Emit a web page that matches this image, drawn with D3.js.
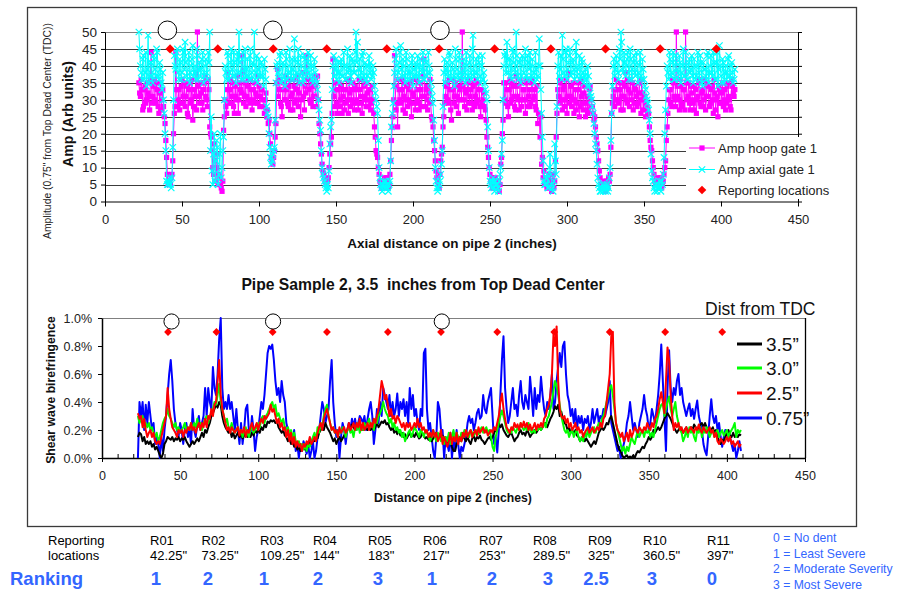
<!DOCTYPE html>
<html>
<head>
<meta charset="utf-8">
<script src="https://cdn.jsdelivr.net/npm/d3@7"></script>
<style>
  body { margin: 0; background: #fff; }
  svg { display: block; }
  text { font-family: "Liberation Sans", Arial, Helvetica, sans-serif; }
</style>
</head>
<body>
<svg id="chart" width="904" height="591"></svg>
<script>
// ---------- Ultrasonic amplitude scan, pipe 2 ----------
// readings on whole inches from 22", plus the interleaved half-inch readings from 22.5"
const ampStart = 22;
const ampHoop = [
  35,31,33,28,34,30,32,27,44,31, 36,29,33,26,35,30,28,23,13,5,
  6,7,12,26,44,28,33,29,36,31, 28,34,25,35,30,24,33,38,50,31,
  35,29,33,37,30,36,22,19,10,17, 6,14,8,5,3,21,30,26,38,33,
  29,35,26,31,37,30,33,43,29,35, 31,36,29,33,30,35,32,29,34,31,
  33,28,30,25,23,20,13,11,15,23, 39,33,29,25,35,30,33,28,36,31,
  27,34,30,37,32,25,35,31,34,43, 36,30,34,28,37,31,37,23,17,11,
  8,6,5,7,14,19,42,28,33,26, 35,30,26,33,29,36,26,32,30,35,
  27,33,29,36,31,26,34,30,35,28, 33,29,30,22,15,13,8,5,4,6,
  5,7,4,8,18,25,43,27,22,33, 29,36,31,26,34,30,35,25,32,29,
  36,30,27,33,31,42,28,34,30,36, 25,22,15,9,6,4,12,16,25,31,
  35,29,33,24,36,31,28,34,30,36, 50,30,33,27,35,31,29,34,28,36,
  30,33,25,29,32,27,19,13,8,5, 7,4,6,5,3,11,20,35,29,33,
  25,36,30,34,28,37,31,27,35,30, 33,26,36,31,28,35,30,33,27,23,
  26,25,13,9,5,4,7,5,3,8, 6,19,33,29,36,27,34,30,26,38,
  31,28,35,30,27,33,25,36,29,32, 25,31,27,34,28,26,25,19,15,9,
  5,4,6,3,5,7,8,26,31,28, 36,30,33,27,35,31,38,29,33,36,
  30,27,34,31,29,35,26,32,30,25, 28,26,18,15,10,6,5,7,4,6,
  5,8,12,22,30,33,28,35,30,50, 31,27,34,29,33,50,30,35,27,32,
  29,34,26,31,36,28,33,30,27,35, 31,29,34,26,32,30,25,33,29,35,
  30,27,34,31,28,36,32,33
];
const ampHoopHalf = [
  32,36,27,33,29,35,31,36,29,34, 30,35,28,32,27,33,25,18,8,5,
  5,8,20,28,33,30,27,34,29,35, 31,26,33,29,36,28,31,27,34,29,
  32,27,35,31,28,33,20,15,8,12, 10,5,7,4,6,25,28,33,29,36,
  31,28,34,30,26,35,32,38,31,28, 34,30,36,27,33,29,31,37,28,33,
  30,26,32,27,24,17,12,13,19,35, 31,36,28,33,30,37,29,34,27,32,
  36,29,33,28,35,30,38,27,32,36, 33,29,35,31,34,28,30,20,14,9,
  7,5,6,10,17,26,31,35,29,33, 28,34,31,27,33,30,36,28,33,29,
  34,30,27,33,29,36,31,28,32,30, 27,34,26,19,14,10,6,4,5,7,
  4,6,5,12,22,30,34,29,36,30, 33,27,35,30,28,33,29,36,31,27,
  33,29,35,28,37,31,33,27,32,29, 24,18,12,7,5,8,14,22,29,34,
  30,36,27,33,29,35,31,26,33,30, 34,28,32,36,29,33,27,35,31,29,
  35,28,33,30,28,24,16,10,6,4, 5,7,4,6,5,13,24,30,35,28,
  33,29,35,31,27,34,30,36,28,33, 30,35,28,33,29,36,31,28,34,26,
  19,11,7,5,6,4,8,5,6,4, 12,26,31,35,30,33,28,36,31,29,
  34,30,26,33,29,35,28,31,27,34, 29,26,33,30,28,24,22,17,12,7,
  4,5,4,6,4,6,16,29,33,30, 33,29,35,31,27,34,30,36,28,32,
  35,29,33,28,32,30,36,27,31,29, 27,22,16,12,8,5,6,5,7,4,
  6,10,18,26,33,29,36,31,28,34, 30,36,28,33,27,35,31,29,34,30,
  27,33,30,35,29,32,28,36,31,34, 28,33,30,36,27,31,34,29,32,28,
  33,29,35,30,27,34,31
];
const ampAxial = [
  50,40,36,43,38,34,49,37,41,35, 42,37,44,36,39,33,30,20,6,5,
  7,4,16,43,39,45,36,41,38,44, 47,37,42,35,40,46,38,36,43,39,
  37,42,35,40,38,44,50,25,5,20, 12,16,8,20,10,19,40,36,43,38,
  45,37,41,35,44,50,38,42,36,45, 39,37,43,36,41,50,38,35,42,37,
  40,34,39,28,25,16,11,14,16,35, 41,37,44,36,40,34,42,38,45,36,
  39,48,37,41,35,43,38,36,42,39, 44,37,40,35,42,36,33,27,21,10,
  7,5,3,4,17,24,40,37,42,38, 35,41,37,44,36,40,38,43,35,41,
  38,50,47,39,36,43,37,41,35,40, 38,36,40,34,30,26,10,5,3,6,
  4,5,3,6,22,29,38,45,36,41, 46,37,40,35,42,38,36,41,34,39,
  37,43,35,40,38,36,42,37,44,38, 33,29,18,6,3,5,8,15,38,35,
  41,37,43,36,39,34,42,37,44,38, 36,42,35,40,37,43,36,49,38,42,
  36,41,35,43,38,33,30,15,6,4, 7,3,5,4,6,10,18,40,44,47,
  38,42,36,44,39,50,37,41,35,43, 38,45,36,41,44,37,40,35,39,37,
  48,33,19,6,5,8,4,14,5,3, 17,8,40,37,43,49,38,44,36,41,
  45,38,42,36,47,39,43,37,41,35, 39,34,37,32,30,26,20,15,7,4,
  3,5,4,3,5,4,10,26,40,37, 43,38,45,50,39,44,37,42,38,45,
  36,41,38,44,35,40,37,42,36,33, 30,27,20,9,6,3,5,4,6,3,
  5,13,27,40,36,42,38,44,36,41, 38,43,35,40,37,44,36,41,38,43,
  35,40,37,44,36,41,34,39,37,43, 35,40,38,44,36,41,34,46,37,42,
  35,40,38,43,36,41,35,39
];
const ampAxialHalf = [
  45,38,42,36,44,39,35,41,37,43, 39,45,37,41,35,38,26,15,5,6,
  5,7,30,40,44,38,42,36,45,39, 41,36,44,38,42,37,40,45,36,41,
  39,44,37,42,36,41,15,9,14,6, 18,5,14,7,15,30,38,44,36,41,
  39,44,37,42,38,41,36,44,39,37, 42,36,45,38,40,36,43,39,37,41,
  37,42,36,26,20,13,12,15,24,40, 38,43,35,41,37,44,36,40,38,42,
  36,42,38,45,37,40,35,43,37,41, 38,43,36,40,38,35,30,24,15,8,
  6,4,5,9,22,33,43,39,36,41, 38,42,37,40,36,45,39,37,42,38,
  44,41,37,42,38,44,36,40,37,43, 41,37,38,32,28,18,7,4,5,4,
  6,4,5,12,26,34,42,40,38,44, 39,42,37,44,36,40,38,43,37,41,
  40,37,42,39,44,36,41,38,40,35, 31,24,10,4,4,6,11,28,42,39,
  38,44,36,41,37,45,39,36,42,37, 40,38,44,36,41,38,45,37,40,38,
  43,37,40,36,35,32,22,10,5,6, 4,6,5,3,8,14,30,43,38,42,
  40,37,45,41,38,43,36,42,37,40, 42,37,43,39,36,42,38,44,36,40,
  40,26,12,5,7,4,10,8,4,6, 12,28,44,39,36,42,37,45,39,43,
  37,41,39,44,37,40,36,42,38,37, 36,40,34,31,28,23,17,11,5,3,
  4,3,5,4,3,7,18,34,42,39, 41,36,42,47,38,41,40,44,36,42,
  39,43,37,41,38,44,36,39,34,31, 29,24,14,7,4,5,3,5,4,6,
  8,20,34,38,44,37,41,36,43,39, 36,41,38,45,37,40,36,42,39,37,
  42,36,40,38,43,35,41,39,36,44, 38,43,37,41,36,44,39,40,35,41,
  38,36,42,37,40,38,36
];

// ---------- Shear wave birefringence (%), one reading per inch from 23" ----------
const bireStart = 23;
const bire075 = [
  0,.4,.3,.4,.2,.38,.25,.4,.3,.2, .25,.1,.15,.1,0,.15,.05,.2,.3,.45,
  .6,.7,.55,.35,.25,.2,.15,.25,.2,.1, .2,.25,.15,.2,.1,.35,.2,.15,.25,.3,
  .2,.25,.3,.5,.3,.5,.4,.35,.65,.5, .45,.6,.85,1,.5,.35,.4,.35,.45,.35,
  .4,.3,.2,.35,.2,.1,.25,.1,.2,.35, .38,.2,.15,.3,.2,.05,.15,.2,.3,.4,
  .35,.45,.6,.75,.8,.78,.81,.7,.55,.45, .5,.4,.55,.45,.4,.25,.2,.15,.18,.1,
  .2,.05,.1,0,.1,.05,.12,.08,.03,.1, 0,.05,.12,0,.05,.15,.2,.3,.4,.35,
  .25,.3,.35,.55,.7,.4,.25,.15,.2,0, .15,.25,.2,.1,.2,.25,.2,.28,.22,.28,
  .2,.25,.3,.28,.25,.3,.2,.28,.35,.4, .3,.1,.2,.35,.25,.4,.3,.5,.45,.4,
  .35,.45,.3,.4,.3,.35,.46,.3,.4,.35, .42,.3,.4,.25,.5,.35,.45,.3,.35,.25,
  .2,.35,.3,.75,.78,.35,.2,.25,.15,.05, 0,.15,.4,.35,.2,.2,0,.15,.1,.05,
  .18,0,.12,.05,.2,.1,0,.08,.05,.1, .15,.25,.3,.25,.28,.2,.25,.32,.35,.28,
  .3,.45,.35,.32,.4,.45,.5,.3,.1,.15, .04,.2,.45,.7,.87,.5,.35,.25,.3,.4,
  .5,.35,.38,.3,.45,.55,.4,.35,.45,.4, .35,.58,.45,.3,.5,.35,.45,.4,.58,.45,
  .35,.3,.4,.35,.45,.6,.35,.4,.55,.65, .75,.65,.8,.83,.6,.45,.4,.3,.35,.25,
  .35,.2,.3,.25,.3,.2,.28,.25,.3,.2, .25,.35,.25,.3,.35,.25,.3,.28,.35,.3,
  .35,.4,.55,.25,.2,.15,.1,.05,.08,0, .05,.1,.15,.25,.3,.4,.3,.2,.25,.2,
  .15,.25,.3,.35,.45,.35,.3,.2,.25,.35, .3,.25,.35,.45,.6,.81,.55,.3,.05,.5,
  .77,.5,.4,.5,.45,.55,.6,.45,.5,.4, .35,.3,.35,.39,.3,.35,.28,.35,.41,.3,
  .25,.2,.1,.05,.02,.15,.3,.42,.3,.25, .3,.2,.25,.15,.08,.15,.2,.15,.12,.15,
  .1,.05,.1,0,.05,.12,.05
];
const bire25 = [
  .32,.28,.3,.22,.28,.2,.15,.18,.2,.15, .18,.12,.1,.12,.1,.15,.2,.25,.3,.5,
  .35,.28,.22,.2,.18,.15,.2,.18,.2,.15, .2,.18,.22,.2,.25,.2,.22,.18,.22,.25,
  .2,.25,.22,.28,.22,.3,.28,.35,.3,.38, .4,.55,.7,.45,.35,.3,.25,.2,.22,.18,
  .22,.2,.18,.2,.22,.16,.2,.18,.22,.15, .2,.18,.22,.25,.2,.22,.25,.2,.25,.28,
  .25,.3,.28,.3,.32,.38,.33,.35,.3,.25, .28,.22,.25,.2,.22,.15,.2,.12,.18,.1,
  .15,.08,.12,.08,.1,.05,.1,.08,.12,.1, .15,.1,.12,.15,.12,.18,.22,.25,.2,.28,
  .32,.35,.3,.25,.2,.22,.18,.2,.15,.22, .18,.2,.22,.18,.2,.25,.2,.22,.25,.2,
  .25,.22,.28,.2,.25,.2,.22,.25,.2,.25, .22,.28,.25,.3,.35,.45,.55,.5,.42,.45,
  .38,.3,.35,.28,.3,.25,.3,.28,.25,.22, .25,.2,.25,.22,.25,.2,.22,.25,.22,.28,
  .22,.25,.2,.22,.18,.2,.15,.18,.15,.2, .15,.18,.12,.15,.2,.1,.15,.12,.08,.12,
  .18,.1,.15,.12,.18,.1,.15,.12,.18,.15, .2,.15,.18,.2,.15,.18,.2,.16,.22,.18,
  .2,.22,.18,.2,.16,.18,.2,.18,.22,.2, .25,.3,.4,.46,.35,.28,.22,.2,.18,.22,
  .2,.25,.22,.24,.2,.25,.22,.26,.22,.25, .2,.24,.2,.22,.25,.2,.24,.22,.25,.22,
  .28,.3,.35,.38,.45,.6,.88,.8,.94,.55, .35,.3,.28,.3,.25,.28,.22,.25,.2,.22,
  .25,.2,.22,.18,.2,.15,.18,.2,.22,.18, .2,.22,.18,.2,.22,.2,.25,.22,.28,.3,
  .4,.5,.6,.87,.9,.4,.25,.2,.18,.15, .18,.12,.15,.18,.12,.2,.15,.18,.22,.2,
  .18,.22,.2,.18,.22,.2,.25,.22,.2,.25, .22,.28,.3,.35,.42,.47,.4,.32,.55,.79,
  .7,.45,.3,.2,.25,.22,.25,.2,.22,.18, .2,.22,.18,.2,.22,.2,.18,.22,.2,.24,
  .2,.18,.22,.2,.18,.2,.22,.18,.2,.15, .18,.12,.1,.14,.12,.1,.12,.15,.12,.15,
  .1,.12,.08,.1,.12,.08,.1
];
const bire30 = [
  .3,.25,.28,.3,.22,.25,.22,.25,.2,.22, .18,.15,.18,.12,.15,.2,.25,.28,.3,.35,
  .3,.28,.25,.22,.25,.2,.22,.18,.2,.22, .25,.2,.22,.2,.25,.2,.25,.22,.28,.22,
  .25,.2,.25,.28,.3,.25,.3,.32,.35,.4, .38,.45,.53,.4,.35,.3,.25,.28,.22,.2,
  .25,.2,.18,.2,.22,.18,.2,.15,.2,.22, .18,.15,.2,.22,.18,.2,.22,.25,.22,.28,
  .3,.25,.3,.32,.35,.38,.4,.35,.38,.3, .32,.28,.25,.28,.22,.2,.22,.18,.2,.15,
  .18,.12,.1,.12,.08,.1,.06,.1,.05,.1, .08,.12,.15,.18,.12,.22,.18,.25,.22,.3,
  .35,.38,.3,.25,.2,.22,.18,.2,.15,.2, .18,.22,.2,.15,.2,.22,.18,.2,.15,.22,
  .2,.25,.18,.22,.2,.25,.22,.25,.28,.22, .25,.2,.28,.25,.3,.32,.35,.4,.35,.32,
  .3,.25,.28,.22,.25,.2,.22,.18,.2,.15, .18,.12,.15,.18,.2,.15,.18,.22,.2,.18,
  .15,.2,.18,.15,.2,.18,.15,.12,.15,.2, .15,.12,.18,.15,.12,.15,.1,.15,.12,.18,
  .1,.15,.2,.12,.18,.15,.12,.18,.15,.2, .16,.18,.15,.2,.18,.16,.18,.2,.17,.2,
  .22,.18,.2,.22,.18,.2,.15,.08,.05,.15, .2,.25,.3,.34,.3,.25,.2,.18,.2,.18,
  .22,.2,.18,.22,.2,.25,.22,.2,.22,.2, .25,.2,.18,.2,.18,.22,.2,.22,.2,.22,
  .25,.22,.28,.3,.35,.4,.48,.55,.52,.45, .38,.3,.25,.2,.18,.2,.15,.18,.2,.15,
  .18,.2,.15,.12,.15,.12,.18,.15,.2,.15, .18,.2,.22,.18,.22,.25,.22,.28,.3,.35,
  .4,.45,.5,.52,.45,.35,.25,.2,.15,.1, .05,.08,.03,.08,.05,.1,.15,.12,.1,.15,
  .2,.15,.18,.2,.15,.2,.18,.2,.15,.18, .15,.2,.25,.3,.35,.38,.39,.3,.35,.4,
  .44,.35,.3,.35,.4,.3,.25,.2,.18,.12, .15,.2,.15,.22,.18,.2,.15,.12,.2,.18,
  .22,.15,.2,.18,.22,.2,.15,.18,.2,.15, .18,.2,.15,.18,.2,.16,.18,.2,.15,.18,
  .2,.22,.25,.15,.2,.18,.2
];
const bire35 = [
  .15,.18,.17,.12,.15,.1,.12,.1,.12,.08, .1,.06,.08,.05,.02,0,.03,.1,.12,.15,
  .14,.13,.15,.12,.14,.13,.15,.12,.14,.13, .15,.12,.1,.08,.1,.12,.1,.12,.14,.12,
  .15,.18,.15,.2,.18,.22,.25,.3,.32,.35, .38,.36,.4,.38,.3,.25,.22,.2,.18,.2,
  .15,.18,.14,.16,.18,.15,.17,.14,.16,.18, .15,.17,.15,.18,.16,.2,.18,.2,.18,.22,
  .2,.24,.22,.26,.25,.27,.26,.27,.25,.26, .22,.2,.18,.2,.16,.15,.12,.14,.1,.12,
  .08,.1,.06,.08,.05,.07,.08,.06,.1,.08, .12,.1,.13,.12,.15,.14,.18,.2,.22,.2,
  .25,.22,.2,.18,.15,.12,.14,.1,.13,.15, .12,.14,.16,.18,.2,.22,.2,.24,.22,.2,
  .22,.24,.2,.22,.2,.25,.22,.2,.22,.2, .22,.2,.22,.25,.22,.24,.26,.25,.27,.24,
  .25,.22,.2,.22,.18,.2,.17,.2,.16,.18, .15,.17,.14,.16,.18,.15,.17,.15,.18,.16,
  .14,.15,.18,.16,.14,.15,.13,.15,.12,.14, .16,.18,.15,.17,.14,.16,.12,.14,.1,.15,
  .12,.08,.05,.05,.1,.12,.15,.12,.16,.14, .12,.15,.12,.1,.14,.16,.12,.15,.14,.16,
  .13,.12,.1,.12,.14,.15,.13,.15,.18,.2, .22,.25,.22,.24,.2,.18,.16,.15,.17,.18,
  .15,.12,.14,.15,.18,.2,.17,.18,.16,.2, .18,.15,.17,.18,.2,.18,.2,.22,.2,.22,
  .24,.25,.22,.25,.28,.3,.33,.37,.35,.38, .3,.33,.28,.25,.24,.2,.22,.18,.2,.17,
  .2,.16,.15,.12,.14,.15,.12,.14,.12,.1, .08,.1,.12,.1,.14,.18,.2,.22,.2,.22,
  .25,.24,.28,.3,.25,.2,.15,.1,.06,.05, .02,0,.01,.02,0,.01,0,.02,0,.03,
  .05,.04,.06,.08,.07,.1,.12,.15,.13,.15, .2,.18,.2,.22,.2,.22,.25,.28,.3,.32,
  .3,.28,.25,.22,.2,.18,.2,.22,.2,.18, .2,.22,.18,.2,.22,.2,.24,.22,.2,.22,
  .24,.25,.22,.25,.22,.2,.18,.2,.22,.18, .2,.15,.12,.1,.13,.12,.15,.18,.2,.16,
  .15,.18,.15,.16,.15,.17,.16
];

// ---------- Reporting locations and dent ranking ----------
const reportIds = ["R01","R02","R03","R04","R05","R06","R07","R08","R09","R10","R11"];
const reportPos = [42.25, 73.25, 109.25, 144, 183, 217, 253, 289.5, 325, 360.5, 397];
const reportPosLabels = ['42.25"','73.25"','109.25"','144"','183"','217"','253"','289.5"','325"','360.5"','397"'];
const rankings = ["1","2","1","2","3","1","2","3","2.5","3","0"];
const rankKey = ["0 = No dent","1 = Least Severe","2 = Moderate Severity","3 = Most Severe"];
const dentMarksAmp = [40.5, 109, 217.5];
const dentMarksBire = [44.5, 109.5, 217.5];

// ---------- Axis ticks ----------
const ampYTicks = [0,5,10,15,20,25,30,35,40,45,50];
const distTicks = [0,50,100,150,200,250,300,350,400,450];
const bireYTicks = [0,0.2,0.4,0.6,0.8,1.0];

const bireSeries = [
  { name: "0.75\u201d", values: bire075, color: "#0000ff" },
  { name: "3.5\u201d",  values: bire35,  color: "#000000" },
  { name: "3.0\u201d",  values: bire30,  color: "#00ff00" },
  { name: "2.5\u201d",  values: bire25,  color: "#ff0000" }
];
const bireLegendOrder = ["3.5\u201d","3.0\u201d","2.5\u201d","0.75\u201d"];

const MAGENTA = "#ff00ff", CYAN = "#00ffff", RED = "#ff0000", BLUE = "#3366ff";
const svg = d3.select("#chart");

// merge whole-inch and half-inch readings into one ordered trace
function scanTrace(whole, half) {
  const pts = whole.map((v, i) => ({ x: ampStart + i, v }))
    .concat(half.map((v, i) => ({ x: ampStart + 0.5 + i, v })));
  return pts.sort((a, b) => a.x - b.x);
}
const hoopTrace = scanTrace(ampHoop, ampHoopHalf);
const axialTrace = scanTrace(ampAxial, ampAxialHalf);

// outer frame around both panels
svg.append("rect").attr("x", 27.5).attr("y", 7.5).attr("width", 829).attr("height", 519)
  .attr("fill", "none").attr("stroke", "#3a3a3a").attr("stroke-width", 1.3);

function styleAxis(g, size) {
  g.selectAll("path.domain").attr("stroke", "#000");
  g.selectAll(".tick line").attr("stroke", "#000");
  g.selectAll("text").attr("font-family", "Liberation Sans, Arial, sans-serif")
    .attr("font-size", size).attr("fill", "#222");
}

// =================== Amplitude panel ===================
const xA = d3.scaleLinear().domain([0, 450]).range([105, 798]);
const yA = d3.scaleLinear().domain([0, 50]).range([201.5, 32]);
const A = svg.append("g");

A.selectAll("line.grid").data(ampYTicks.filter(d => d > 0)).join("line")
  .attr("class", "grid")
  .attr("x1", xA(0)).attr("x2", xA(450))
  .attr("y1", d => Math.round(yA(d)) + 0.5).attr("y2", d => Math.round(yA(d)) + 0.5)
  .attr("stroke", d => d === 50 ? "#808080" : "#3c3c3c").attr("stroke-width", 1);

const axLeft = A.append("g").attr("transform", `translate(${xA(0)},0)`)
  .call(d3.axisLeft(yA).tickValues(ampYTicks).tickSize(4).tickSizeOuter(0).tickPadding(4));
styleAxis(axLeft, 13.5);
const axRight = A.append("g").attr("transform", `translate(${xA(450)},0)`)
  .call(d3.axisRight(yA).tickValues(ampYTicks).tickSize(4).tickSizeOuter(0).tickFormat(""));
styleAxis(axRight, 13);
const axBottom = A.append("g").attr("transform", `translate(0,${yA(0)})`)
  .call(d3.axisBottom(xA).tickValues(distTicks).tickSize(5).tickSizeOuter(0).tickPadding(8));
styleAxis(axBottom, 13);

// hoop gate: magenta squares joined by a thin line; axial gate: cyan crosses on top
const lineA = d3.line().x(d => xA(d.x)).y(d => yA(d.v));
A.append("path").datum(hoopTrace).attr("d", lineA).attr("fill", "none")
  .attr("stroke", MAGENTA).attr("stroke-width", 1);
A.append("g").selectAll("rect").data(hoopTrace).join("rect")
  .attr("x", d => xA(d.x) - 2.6).attr("y", d => yA(d.v) - 2.6)
  .attr("width", 5.2).attr("height", 5.2).attr("fill", MAGENTA);
A.append("path").datum(axialTrace).attr("d", lineA).attr("fill", "none")
  .attr("stroke", CYAN).attr("stroke-width", 1);
A.append("g").selectAll("path").data(axialTrace).join("path")
  .attr("transform", d => `translate(${xA(d.x)},${yA(d.v)})`)
  .attr("d", "M-3.2,-3.2L3.2,3.2M-3.2,3.2L3.2,-3.2").attr("stroke", CYAN).attr("stroke-width", 1.2);

const diamond = s => `M0,${-s}L${s},0L0,${s}L${-s},0Z`;
A.append("g").selectAll("path").data(reportPos).join("path")
  .attr("transform", d => `translate(${xA(d)},${yA(45)})`)
  .attr("d", diamond(4.6)).attr("fill", RED);
A.append("g").selectAll("circle").data(dentMarksAmp).join("circle")
  .attr("cx", d => xA(d)).attr("cy", yA(50.5)).attr("r", 9.3)
  .attr("fill", "#fff").attr("stroke", "#000").attr("stroke-width", 1);

// legend (sits over the lower grid lines)
A.append("rect").attr("x", 686).attr("y", 137).attr("width", 166).attr("height", 62).attr("fill", "#fff");
const legA = A.append("g");
legA.append("line").attr("x1", 689).attr("x2", 715).attr("y1", 148).attr("y2", 148).attr("stroke", MAGENTA);
legA.append("rect").attr("x", 699.4).attr("y", 145.4).attr("width", 5.2).attr("height", 5.2).attr("fill", MAGENTA);
legA.append("line").attr("x1", 689).attr("x2", 715).attr("y1", 169.5).attr("y2", 169.5).attr("stroke", CYAN);
legA.append("path").attr("transform", "translate(702,169.5)").attr("d", "M-3.2,-3.2L3.2,3.2M-3.2,3.2L3.2,-3.2")
  .attr("stroke", CYAN).attr("stroke-width", 1.2);
legA.append("path").attr("transform", "translate(702,190)").attr("d", diamond(4.3)).attr("fill", RED);
[["Amp hoop gate 1", 148], ["Amp axial gate 1", 169.5], ["Reporting locations", 190]].forEach(([t, y]) => {
  legA.append("text").attr("x", 718).attr("y", y).attr("dy", "0.35em")
    .attr("font-size", 13).attr("fill", "#222").text(t);
});

A.append("text").attr("transform", "translate(73,114) rotate(-90)").attr("text-anchor", "middle")
  .attr("font-size", 14).attr("font-weight", "bold").attr("fill", "#111").text("Amp (Arb units)");
A.append("text").attr("transform", "translate(50.5,131) rotate(-90)").attr("text-anchor", "middle")
  .attr("font-size", 10.4).attr("fill", "#222").text("Amplitude (0.75\" from Top Dead Center (TDC))");
A.append("text").attr("x", 452).attr("y", 248).attr("text-anchor", "middle")
  .attr("font-size", 13.5).attr("font-weight", "bold").attr("fill", "#111")
  .text("Axial distance on pipe 2 (inches)");

// =================== Birefringence panel ===================
const xB = d3.scaleLinear().domain([0, 450]).range([102, 805]);
const yB = d3.scaleLinear().domain([0, 1]).range([458, 318]);
const B = svg.append("g");

B.append("text").attr("x", 423).attr("y", 290).attr("text-anchor", "middle")
  .attr("font-size", 15.7).attr("font-weight", "bold").attr("fill", "#111")
  .style("white-space", "pre").text("Pipe Sample 2, 3.5  inches from Top Dead Center");

B.append("line").attr("x1", xB(0)).attr("x2", xB(450)).attr("y1", 318.5).attr("y2", 318.5)
  .attr("stroke", "#808080");
B.append("line").attr("x1", xB(450) + 0.5).attr("x2", xB(450) + 0.5).attr("y1", 318).attr("y2", 458)
  .attr("stroke", "#000").attr("stroke-width", 1.3);

const bLeft = B.append("g").attr("transform", `translate(${xB(0)},0)`)
  .call(d3.axisLeft(yB).tickValues(bireYTicks).tickSize(4).tickSizeOuter(0).tickPadding(6)
    .tickFormat(d => d.toFixed(1) + "%"));
styleAxis(bLeft, 12.5);
bLeft.selectAll("path.domain").attr("stroke-width", 1.5);
const bMinor = B.append("g").attr("transform", `translate(0,${yB(0)})`)
  .call(d3.axisBottom(xB).tickValues(d3.range(0, 451, 10)).tickSize(-4).tickSizeOuter(0).tickFormat(""));
styleAxis(bMinor, 12);
const bBottom = B.append("g").attr("transform", `translate(0,${yB(0)})`)
  .call(d3.axisBottom(xB).tickValues(distTicks).tickSize(4).tickSizeOuter(0).tickPadding(9));
styleAxis(bBottom, 12.5);
bBottom.selectAll("path.domain").attr("stroke-width", 1.5);

const lineB = d3.line().x((d, i) => xB(bireStart + i)).y(d => yB(d));
B.append("g").selectAll("path").data(bireSeries).join("path")
  .attr("d", s => lineB(s.values)).attr("fill", "none")
  .attr("stroke", s => s.color).attr("stroke-width", 2).attr("stroke-linejoin", "round");

B.append("g").selectAll("path").data(reportPos).join("path")
  .attr("transform", d => `translate(${xB(d)},${yB(0.9)})`)
  .attr("d", diamond(3.9)).attr("fill", RED);
B.append("g").selectAll("circle").data(dentMarksBire).join("circle")
  .attr("cx", d => xB(d)).attr("cy", yB(0.975)).attr("r", 7.6)
  .attr("fill", "#fff").attr("stroke", "#000").attr("stroke-width", 1);

B.append("text").attr("x", 705).attr("y", 309).attr("dy", "0.35em")
  .attr("font-size", 17.5).attr("fill", "#111").text("Dist from TDC");
const legB = B.append("g");
bireLegendOrder.forEach((name, i) => {
  const s = bireSeries.find(d => d.name === name);
  const y = [344, 368, 393, 418][i];
  legB.append("line").attr("x1", 737).attr("x2", 762).attr("y1", y).attr("y2", y)
    .attr("stroke", s.color).attr("stroke-width", 3);
  legB.append("text").attr("x", 766).attr("y", y).attr("dy", "0.35em")
    .attr("font-size", 19).attr("fill", "#111").text(name);
});

B.append("text").attr("transform", "translate(55,390) rotate(-90)").attr("text-anchor", "middle")
  .attr("font-size", 12.2).attr("font-weight", "bold").attr("fill", "#111").text("Shear wave birefringence");
B.append("text").attr("x", 453).attr("y", 502).attr("text-anchor", "middle")
  .attr("font-size", 12.2).attr("font-weight", "bold").attr("fill", "#111").text("Distance on pipe 2 (inches)");

// =================== Ranking table ===================
const T = svg.append("g");
const colX = [150, 201.5, 260, 313, 368, 423, 479, 533, 588, 643, 707];
const rankX = [156, 208, 264, 318, 378, 432, 492, 548, 596, 652, 712];
T.append("text").attr("x", 48).attr("y", 545).attr("font-size", 13).text("Reporting");
T.append("text").attr("x", 48).attr("y", 560).attr("font-size", 13).text("locations");
T.selectAll("text.rid").data(reportIds).join("text").attr("class", "rid")
  .attr("x", (d, i) => colX[i]).attr("y", 545).attr("font-size", 13).text(d => d);
T.selectAll("text.rpos").data(reportPosLabels).join("text").attr("class", "rpos")
  .attr("x", (d, i) => colX[i]).attr("y", 560).attr("font-size", 13).text(d => d);
T.append("text").attr("x", 10).attr("y", 585).attr("font-size", 18.5).attr("font-weight", "bold")
  .attr("fill", BLUE).text("Ranking");
T.selectAll("text.rank").data(rankings).join("text").attr("class", "rank")
  .attr("x", (d, i) => rankX[i]).attr("y", 585).attr("text-anchor", "middle")
  .attr("font-size", 18.5).attr("font-weight", "bold").attr("fill", BLUE).text(d => d);
T.selectAll("text.key").data(rankKey).join("text").attr("class", "key")
  .attr("x", 773).attr("y", (d, i) => [542, 557.5, 573, 588.5][i])
  .attr("font-size", 12.2).attr("fill", BLUE).text(d => d);
</script>
</body>
</html>
